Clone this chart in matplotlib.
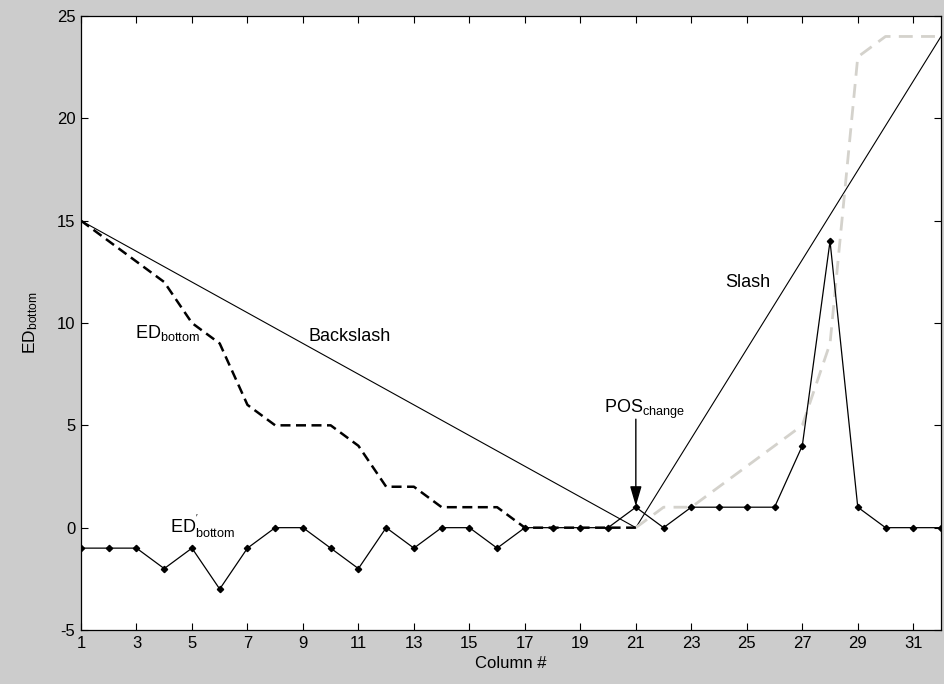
import matplotlib
matplotlib.use("Agg")
import matplotlib.pyplot as plt

plt.rcParams['font.family'] = ['Liberation Sans', 'DejaVu Sans']
plt.rcParams['mathtext.fontset'] = 'custom'
plt.rcParams['mathtext.rm'] = 'Liberation Sans'
plt.rcParams['mathtext.it'] = 'Liberation Sans:italic'
plt.rcParams['axes.unicode_minus'] = False

# Column indices
columns = list(range(1, 33))

# ED_bottom (dashed black), columns 1..21
ed_bottom_x = list(range(1, 22))
ed_bottom = [15, 14, 13, 12, 10, 9, 6, 5, 5, 5, 4, 2, 2, 1, 1, 1, 0, 0, 0, 0, 0]

# continuation (dashed grey), columns 21..32
ed_grey_x = list(range(21, 33))
ed_grey = [0, 1, 1, 2, 3, 4, 5, 9, 23, 24, 24, 24]

# ED'_bottom (solid with markers), columns 1..32
ed_prime = [-1, -1, -1, -2, -1, -3, -1, 0, 0, -1, -2, 0, -1, 0, 0, -1,
            0, 0, 0, 0, 1, 0, 1, 1, 1, 1, 4, 14, 1, 0, 0, 0]

# Backslash and Slash reference lines
backslash_x = [1, 21]
backslash_y = [15, 0]
slash_x = [21, 32]
slash_y = [0, 24]

x_ticks = list(range(1, 32, 2))
y_ticks = [-5, 0, 5, 10, 15, 20, 25]

fig = plt.figure(figsize=(9.44, 6.84), dpi=100, facecolor='#cccccc')
ax = fig.add_axes([81/944, 54/684, 860/944, 614/684])
ax.set_facecolor('white')

ax.plot(backslash_x, backslash_y, color='black', lw=0.8)
ax.plot(slash_x, slash_y, color='black', lw=0.8)
ax.plot(ed_grey_x, ed_grey, color='#d4d2cc', lw=2.0, dashes=(5, 3))
ax.plot(ed_bottom_x, ed_bottom, color='black', lw=1.8, dashes=(4, 2.2))
ax.plot(columns, ed_prime, color='black', lw=0.9, marker='D', ms=3.2,
        mfc='black', mec='black')

ax.annotate('', xy=(21, 1.05), xytext=(21, 5.3),
            arrowprops=dict(arrowstyle='-|>,head_length=0.55,head_width=0.16',
                            color='black', lw=1.0,
                            mutation_scale=22, shrinkA=0, shrinkB=0))

tfs = 13
ax.text(10.7, 9.36, 'Backslash', fontsize=tfs, ha='center', va='center')
ax.text(25.05, 12.0, 'Slash', fontsize=tfs, ha='center', va='center')
ax.text(2.95, 9.5, r'$\mathrm{ED}_{\mathrm{bottom}}$', fontsize=tfs,
        ha='left', va='center')
ax.text(19.85, 5.8, r'$\mathrm{POS}_{\mathrm{change}}$', fontsize=tfs,
        ha='left', va='center')
ax.text(4.2, 0.05, r"$\mathrm{ED}^{'}_{\mathrm{bottom}}$", fontsize=tfs,
        ha='left', va='center')

ax.set_xlim(1, 32)
ax.set_ylim(-5, 25)
ax.set_xticks(x_ticks)
ax.set_yticks(y_ticks)
ax.tick_params(direction='in', length=5, width=0.8, top=True, right=True,
               labelsize=12, pad=4)
for s in ax.spines.values():
    s.set_linewidth(0.9)

ax.set_xlabel('Column #', fontsize=12, labelpad=4)
ax.set_ylabel(r'$\mathrm{ED}_{\mathrm{bottom}}$', fontsize=12.5, labelpad=12)

fig.savefig('out.png', dpi=100, facecolor=fig.get_facecolor())
